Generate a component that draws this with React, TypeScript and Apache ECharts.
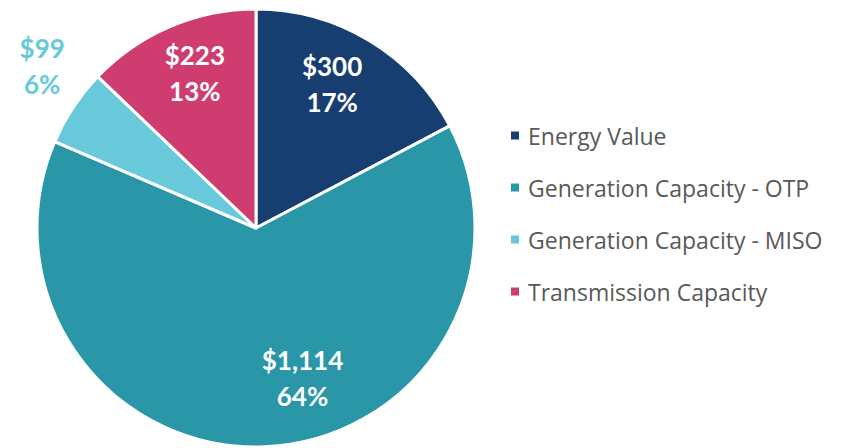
import React, { useEffect, useRef } from "react";
import * as echarts from "echarts";

const categories = [
  "Energy Value",
  "Generation Capacity - OTP",
  "Generation Capacity - MISO",
  "Transmission Capacity",
];
const values = [300, 1114, 99, 223];
const valueLabels = ["$300", "$1,114", "$99", "$223"];
const percentLabels = ["17%", "64%", "6%", "13%"];
const colors = ["#173e70", "#2a97a9", "#67c9da", "#cf3d70"];
const labelColors = ["#ffffff", "#ffffff", "#67c9da", "#ffffff"];
const labelOffsets = [
  [18, -48],
  [42, 38],
  [-120, -100],
  [-17, -52],
];

export default function App() {
  const ref = useRef<HTMLDivElement>(null);
  useEffect(() => {
    if (!ref.current) return;
    const chart = echarts.init(ref.current, undefined, { renderer: "svg" });
    chart.setOption({
      animation: false,
      backgroundColor: "#ffffff",
      legend: {
        orient: "vertical",
        left: 504,
        top: 119,
        itemWidth: 10,
        itemHeight: 10,
        itemGap: 29,
        icon: "rect",
        data: categories,
        textStyle: {
          fontFamily: "Open Sans",
          fontSize: 23,
          lineHeight: 23,
          color: "#595959",
          padding: [0, 0, 0, 3],
        },
      },
      series: [
        {
          type: "pie",
          center: [256, 228],
          radius: [0, 219],
          startAngle: 90,
          clockwise: true,
          itemStyle: { borderColor: "#ffffff", borderWidth: 3 },
          label: {
            show: true,
            position: "inside",
            fontFamily: "Lato",
            fontWeight: "bold",
            fontSize: 26,
            lineHeight: 36,
            align: "center",
          },
          labelLine: { show: false },
          emphasis: { disabled: true },
          labelLayout: (p: any) => ({
            dx: labelOffsets[p.dataIndex][0],
            dy: labelOffsets[p.dataIndex][1],
          }),
          data: categories.map((name, i) => ({
            name,
            value: values[i],
            itemStyle: { color: colors[i] },
            label: {
              color: labelColors[i],
              formatter: valueLabels[i] + "\n" + percentLabels[i],
            },
          })),
        },
      ],
    });
    return () => chart.dispose();
  }, []);
  return (
    <div
      ref={ref}
      style={{ position: "fixed", left: 0, top: 0, width: 848, height: 448 }}
    />
  );
}
